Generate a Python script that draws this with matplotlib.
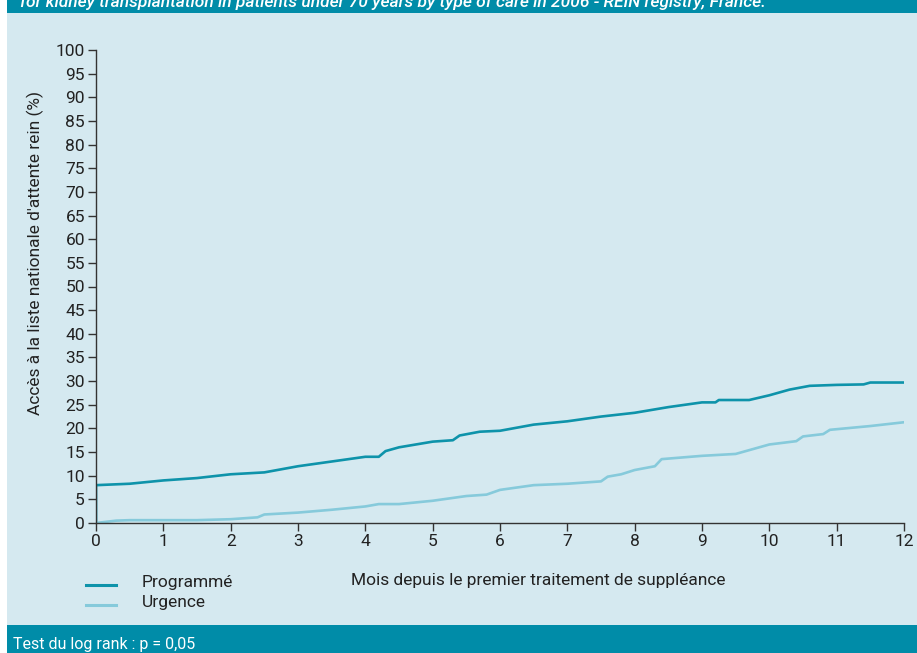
import numpy as np
import matplotlib.pyplot as plt
from matplotlib.patches import Rectangle

# Cumulative access to the national kidney waiting list (%) by month
mois_prog = [0, 0, 0.5, 1, 1.5, 2, 2.5, 3, 3.5, 4, 4.2, 4.3, 4.5, 5, 5.3, 5.4, 5.7, 6,
             6.5, 7, 7.5, 8, 8.5, 9, 9.2, 9.25, 9.7, 10, 10.3, 10.6, 11, 11.4, 11.5, 12]
acces_prog = [0, 8.0, 8.3, 9.0, 9.5, 10.3, 10.7, 12.0, 13.0, 14.0, 14.0, 15.2, 16.0, 17.2,
              17.5, 18.5, 19.3, 19.5, 20.8, 21.5, 22.5, 23.3, 24.5, 25.5, 25.5, 26.0, 26.0,
              27.0, 28.2, 29.0, 29.2, 29.3, 29.7, 29.7]

mois_urg = [0, 0.3, 0.5, 1, 1.5, 2, 2.4, 2.5, 3, 3.5, 4, 4.2, 4.5, 5, 5.5, 5.8, 6, 6.5,
            7, 7.5, 7.6, 7.8, 8, 8.3, 8.4, 9, 9.5, 9.8, 10, 10.4, 10.5, 10.8, 10.9, 11.5, 12]
acces_urg = [0, 0.5, 0.6, 0.6, 0.6, 0.8, 1.2, 1.8, 2.2, 2.8, 3.5, 4.0, 4.0, 4.7, 5.7, 6.0,
             7.0, 8.0, 8.3, 8.8, 9.8, 10.3, 11.2, 12.0, 13.5, 14.2, 14.6, 15.8, 16.6, 17.3,
             18.3, 18.8, 19.7, 20.5, 21.3]

col_prog = '#0E93AA'
col_urg = '#86CADB'
bandeau = '#008CA8'
fond = '#D5E9F0'
txt = '#222222'

plt.rcParams['font.family'] = ['Roboto', 'DejaVu Sans']

W, H = 917, 653
fig = plt.figure(figsize=(W / 100, H / 100), dpi=100)

# panel background and banners
fig.patches.append(Rectangle((7 / W, 0), 1 - 7 / W, 1, transform=fig.transFigure,
                             facecolor=fond, edgecolor='none', zorder=-3))
fig.patches.append(Rectangle((7 / W, 1 - 13 / H), 1 - 7 / W, 13 / H, transform=fig.transFigure,
                             facecolor=bandeau, edgecolor='none', zorder=-2))
fig.patches.append(Rectangle((7 / W, 0), 1 - 7 / W, 28 / H, transform=fig.transFigure,
                             facecolor=bandeau, edgecolor='none', zorder=-2))

fig.text(20 / W, 1 - 2 / H,
         'for kidney transplantation in patients under 70 years by type of care in 2006 - REIN registry, France.',
         color='white', fontsize=12.5, style='italic', fontweight='medium', va='center', ha='left')
fig.text(13 / W, 8 / H, 'Test du log rank : p = 0,05', color='white', fontsize=11.5,
         va='center', ha='left')

ax = fig.add_axes([96 / W, 1 - 523 / H, (904 - 96) / W, (523 - 50) / H])
ax.set_facecolor('none')
ax.plot(mois_prog, acces_prog, color=col_prog, lw=1.9, solid_joinstyle='round')
ax.plot(mois_urg, acces_urg, color=col_urg, lw=1.9, solid_joinstyle='round')

ax.set_xlim(0, 12)
ax.set_ylim(0, 100)
ax.set_xticks(np.arange(0, 13, 1))
ax.set_yticks(np.arange(0, 101, 5))
for s in ['top', 'right']:
    ax.spines[s].set_visible(False)
for s in ['left', 'bottom']:
    ax.spines[s].set_color('#333333')
    ax.spines[s].set_linewidth(1.0)
ax.tick_params(direction='out', length=6, width=1.0, color='#333333',
               labelsize=12.5, labelcolor=txt, pad=2)

ax.set_ylabel("Accès à la liste nationale d'attente rein (%)", fontsize=12.5, color=txt)
ax.yaxis.set_label_coords(-52 / 808, 0.571)
fig.text(538 / W, 1 - 580 / H, 'Mois depuis le premier traitement de suppléance',
         fontsize=12.5, color=txt, ha='center', va='center')

# legend
fig.add_artist(plt.Line2D([86 / W, 116 / W], [1 - 585 / H] * 2, color=col_prog, lw=2.2))
fig.add_artist(plt.Line2D([86 / W, 116 / W], [1 - 605 / H] * 2, color=col_urg, lw=2.2))
fig.text(142 / W, 1 - 583 / H, 'Programmé', fontsize=12.5, color=txt, va='center')
fig.text(142 / W, 1 - 603 / H, 'Urgence', fontsize=12.5, color=txt, va='center')

fig.savefig('out.png', dpi=100, facecolor='white')
